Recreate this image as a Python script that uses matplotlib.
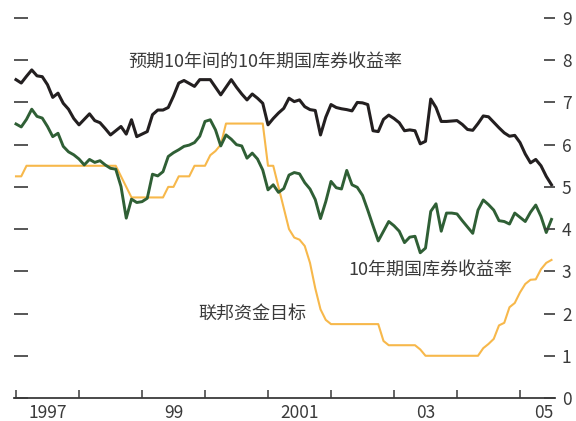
import numpy as np
import matplotlib
matplotlib.use('Agg')
import matplotlib.pyplot as plt

plt.rcParams['font.family'] = ['Noto Sans CJK SC', 'DejaVu Sans']

# Monthly data, Jan 1997 - Jul 2005
months = np.arange(103)
dates = 1997 + months / 12

# Expected 10-year yield ten years ahead (black)
expected_10y = [
    7.54, 7.46, 7.62, 7.77, 7.63, 7.61, 7.42, 7.12, 7.22, 6.98, 6.84, 6.62,
    6.47, 6.60, 6.73, 6.57, 6.52, 6.38, 6.23, 6.33, 6.43, 6.25, 6.59, 6.19,
    6.25, 6.31, 6.71, 6.82, 6.82, 6.88, 7.15, 7.46, 7.52, 7.45, 7.38, 7.54,
    7.54, 7.54, 7.36, 7.18, 7.36, 7.54, 7.36, 7.20, 7.06, 7.20, 7.10, 6.98,
    6.47, 6.62, 6.75, 6.86, 7.10, 7.02, 7.06, 6.90, 6.83, 6.81, 6.23, 6.65,
    6.95, 6.88, 6.85, 6.83, 6.80, 7.00, 6.99, 6.95, 6.33, 6.31, 6.60, 6.70,
    6.62, 6.52, 6.33, 6.35, 6.33, 6.02, 6.08, 7.08, 6.88, 6.55, 6.55, 6.56,
    6.57, 6.48, 6.36, 6.34, 6.50, 6.68, 6.66, 6.53, 6.40, 6.28, 6.20, 6.22,
    6.05, 5.78, 5.57, 5.65, 5.50, 5.25, 5.05,
]

# 10-year Treasury yield (green)
treasury_10y = [
    6.49, 6.42, 6.60, 6.84, 6.67, 6.63, 6.43, 6.19, 6.27, 5.96, 5.83, 5.76,
    5.66, 5.52, 5.65, 5.58, 5.62, 5.52, 5.44, 5.42, 5.01, 4.26, 4.71, 4.63,
    4.65, 4.73, 5.30, 5.26, 5.36, 5.72, 5.81, 5.88, 5.96, 5.99, 6.05, 6.20,
    6.55, 6.59, 6.35, 5.97, 6.23, 6.13, 6.00, 5.97, 5.68, 5.80, 5.66, 5.40,
    4.93, 5.05, 4.87, 4.96, 5.28, 5.34, 5.31, 5.10, 4.95, 4.70, 4.25, 4.65,
    5.13, 4.98, 4.95, 5.39, 5.05, 4.99, 4.80, 4.45, 4.08, 3.72, 3.95, 4.18,
    4.08, 3.95, 3.68, 3.81, 3.83, 3.44, 3.55, 4.42, 4.60, 3.95, 4.38, 4.38,
    4.36, 4.20, 4.05, 3.90, 4.45, 4.69, 4.58, 4.45, 4.20, 4.18, 4.12, 4.38,
    4.28, 4.18, 4.40, 4.57, 4.30, 3.92, 4.23,
]

# Federal funds target (orange)
fed_funds = [
    5.25, 5.25, 5.50, 5.50, 5.50, 5.50, 5.50, 5.50, 5.50, 5.50, 5.50, 5.50,
    5.50, 5.50, 5.50, 5.50, 5.50, 5.50, 5.50, 5.50, 5.25, 5.00, 4.75, 4.75,
    4.75, 4.75, 4.75, 4.75, 4.75, 5.00, 5.00, 5.25, 5.25, 5.25, 5.50, 5.50,
    5.50, 5.75, 5.85, 6.00, 6.50, 6.50, 6.50, 6.50, 6.50, 6.50, 6.50, 6.50,
    5.50, 5.50, 5.00, 4.50, 4.00, 3.80, 3.75, 3.60, 3.20, 2.60, 2.10, 1.85,
    1.75, 1.75, 1.75, 1.75, 1.75, 1.75, 1.75, 1.75, 1.75, 1.75, 1.35, 1.25,
    1.25, 1.25, 1.25, 1.25, 1.25, 1.15, 1.00, 1.00, 1.00, 1.00, 1.00, 1.00,
    1.00, 1.00, 1.00, 1.00, 1.00, 1.18, 1.28, 1.40, 1.72, 1.78, 2.15, 2.25,
    2.50, 2.70, 2.80, 2.81, 3.05, 3.20, 3.27,
]

year_ticks = list(range(1997, 2006))
year_label_pos = [1997.5, 1999.5, 2001.5, 2003.5, 2005.37]
year_labels = ['1997', '99', '2001', '03', '05']
y_ticks = list(range(0, 10))

ink = '#3a3a3a'

fig = plt.figure(figsize=(5.76, 4.21), dpi=100)
ax = fig.add_axes([14 / 576, 23 / 421, 541 / 576, 380 / 421])

ax.plot(dates, fed_funds, color='#f7b84b', lw=1.5, solid_joinstyle='round')
ax.plot(dates, treasury_10y, color='#2f5f35', lw=2.1, solid_joinstyle='round')
ax.plot(dates, expected_10y, color='#231f20', lw=2.2, solid_joinstyle='round')

ax.set_xlim(1997 - 2 / 63, 1997 + 539 / 63)
ax.set_ylim(0, 9)

for side in ['left', 'right', 'top']:
    ax.spines[side].set_visible(False)
ax.spines['bottom'].set_color(ink)
ax.spines['bottom'].set_linewidth(1.3)

ax.set_xticks(year_ticks)
ax.set_xticklabels([])
ax.set_xticks(year_label_pos, minor=True)
ax.set_xticklabels(year_labels, minor=True)
ax.tick_params(axis='x', which='major', direction='in', length=6, width=1.1, color=ink)
ax.tick_params(axis='x', which='minor', length=0, pad=4, labelsize=12.5, labelcolor=ink)

# left side: bare dashes
ax.set_yticks(y_ticks)
ax.tick_params(axis='y', left=True, right=False, labelleft=False,
               direction='in', length=10, width=1.2, color=ink)

# right side: dashes with labels
ax2 = ax.twinx()
ax2.set_ylim(0, 9)
ax2.set_yticks(y_ticks)
for side in ['left', 'right', 'top', 'bottom']:
    ax2.spines[side].set_visible(False)
ax2.tick_params(axis='y', direction='in', length=8, width=1.2, color=ink,
                labelsize=12.5, labelcolor=ink, pad=5)

ax.text(1998.78, 7.96, '预期10年间的10年期国库券收益率', fontsize=13, color=ink, va='center')
ax.text(2002.27, 3.03, '10年期国库券收益率', fontsize=13, color=ink, va='center')
ax.text(1999.90, 1.99, '联邦资金目标', fontsize=13, color=ink, va='center')

fig.savefig('out.png', dpi=100)
